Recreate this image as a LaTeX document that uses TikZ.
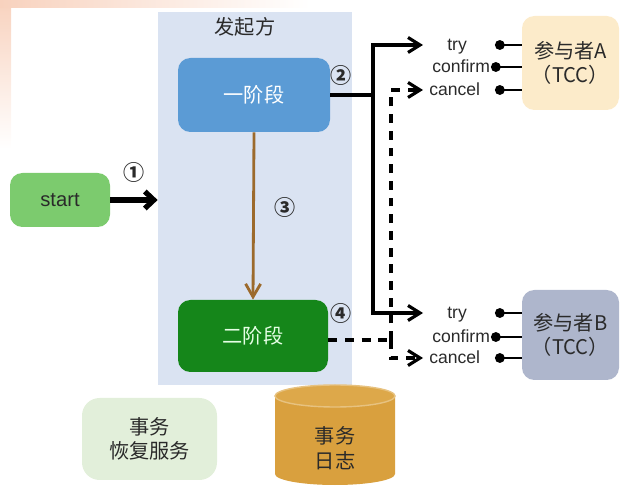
\documentclass[tikz,border=0pt]{standalone}
\usepackage{fontspec}
\setmainfont{Liberation Sans}
\newfontfamily\cjk{Noto Sans CJK SC}
\usetikzlibrary{arrows.meta}

\definecolor{panelblue}{HTML}{DAE3F2}
\definecolor{stageblue}{HTML}{5B9BD5}
\definecolor{stagegreen}{HTML}{15861A}
\definecolor{startgreen}{HTML}{7CCB6E}
\definecolor{partyellow}{HTML}{FCEBCA}
\definecolor{partgray}{HTML}{AEB6CC}
\definecolor{recgreen}{HTML}{E2EFDA}
\definecolor{logorange}{HTML}{D9A03E}
\definecolor{logtop}{HTML}{DDA84A}
\definecolor{arrowbrown}{HTML}{9C6A2C}
\definecolor{peach}{HTML}{F8D2BE}
\definecolor{darktext}{HTML}{2A2A2A}

\begin{document}
\begin{tikzpicture}[
    stage/.style={rounded corners=7pt, align=center, text=darktext,
      font=\cjk\fontsize{11.5}{14}\selectfont},
    num/.style={font=\cjk\bfseries\fontsize{12}{13}\selectfont, text=darktext},
    op/.style={anchor=west, inner sep=0pt, text height=1.5ex, text depth=.35ex,
      font=\fontsize{10}{12}\selectfont, text=darktext},
    wire/.style={line width=1.8pt},
    dashwire/.style={line width=1.8pt, dash pattern=on 5pt off 4.5pt},
    tip/.style={-{Straight Barb[length=2.4mm,width=3mm]}},
    dotline/.style={line width=1.6pt, -{Circle[length=5.5pt]}}
  ]
  \useasboundingbox (0,0) rectangle (12.48,9.88);

  % faint corner tint
  \shade[top color=peach, bottom color=white] (0,9.88) rectangle (0.22,6.9);
  \shade[left color=peach, right color=white] (0,9.88) rectangle (6.2,9.72);

  % initiator panel
  \node[fill=panelblue, minimum width=3.88cm, minimum height=7.46cm] (initiator) at (5.10,5.91) {};
  \node[stage] (initiatorname) at (4.90,9.34) {发起方};

  \node[stage, fill=stageblue, text=white, minimum width=3.04cm, minimum height=1.48cm] (phase1) at (5.08,7.98) {一阶段};
  \node[stage, fill=stagegreen, text=green!10, minimum width=3.0cm, minimum height=1.44cm] (phase2) at (5.06,3.16) {二阶段};
  \node[stage, fill=startgreen, font=\fontsize{11.5}{13}\selectfont, minimum width=2cm, minimum height=1.08cm] (start) at (1.2,5.88) {start};

  \draw[line width=3pt, -{Straight Barb[length=1.8mm,width=3.4mm]}] (start.east) -- (start.east -| initiator.west);
  \draw[line width=1.6pt, arrowbrown, -{Straight Barb[length=2.6mm,width=3mm]}] (phase1.south) -- (phase2.north);

  \node[num] (n1) at (2.68,6.44) {①};
  \node[num] (n2) at (6.82,8.38) {②};
  \node[num] (n3) at (5.70,5.74) {③};
  \node[num] (n4) at (6.82,3.62) {④};

  % participants
  \node[stage, fill=partyellow, minimum width=1.94cm, minimum height=1.88cm] (partA) at (11.41,8.62) {参与者A\\（TCC）};
  \node[stage, fill=partgray, minimum width=1.94cm, minimum height=1.80cm] (partB) at (11.41,3.18) {参与者B\\（TCC）};

  \node[op] (tryA) at (8.94,8.98) {try};
  \node[op] (confirmA) at (8.64,8.54) {confirm};
  \node[op] (cancelA) at (8.58,8.08) {cancel};
  \node[op] (tryB) at (8.94,3.62) {try};
  \node[op] (confirmB) at (8.64,3.14) {confirm};
  \node[op] (cancelB) at (8.58,2.72) {cancel};

  \coordinate (tipx) at (8.46,0);
  \coordinate (dotx) at (9.90,0);
  \coordinate (dotc) at (9.82,0);
  \coordinate (split1) at (7.46,7.98);
  \coordinate (split2) at (7.82,3.08);

  % phase one: try
  \draw[wire] (phase1) -- (split1);
  \draw[wire, tip] (split1) |- (tryA -| tipx);
  \draw[wire, tip] (split1) |- (tryB -| tipx);

  % phase two: confirm / cancel
  \draw[dashwire] (phase2.east |- split2) -- (split2);
  \draw[dashwire, tip] (split2) |- (cancelA -| tipx);
  \draw[dashwire, tip] (split2) |- (cancelB -| tipx);

  \foreach \p in {A,B} {
    \draw[dotline] (part\p.west |- try\p) -- (try\p -| dotx);
    \draw[dotline] (part\p.west |- confirm\p) -- (confirm\p -| dotc);
    \draw[dotline] (part\p.west |- cancel\p) -- (cancel\p -| dotx);
  }

  % recovery service and log
  \node[stage, fill=recgreen, rounded corners=10pt, minimum width=2.7cm, minimum height=1.64cm] (recovery) at (2.99,1.10) {事务\\恢复服务};

  \fill[logorange] (5.5,1.96) -- (5.5,0.40) arc[start angle=180, end angle=360, x radius=1.2, y radius=0.22]
    -- (7.9,1.96) arc[start angle=0, end angle=180, x radius=1.2, y radius=0.22] -- cycle;
  \draw[logtop!70!white, line width=0.8pt, fill=logtop] (6.7,1.96) ellipse [x radius=1.2, y radius=0.22];
  \node[stage] (log) at (6.7,0.92) {事务\\日志};
\end{tikzpicture}
\end{document}
